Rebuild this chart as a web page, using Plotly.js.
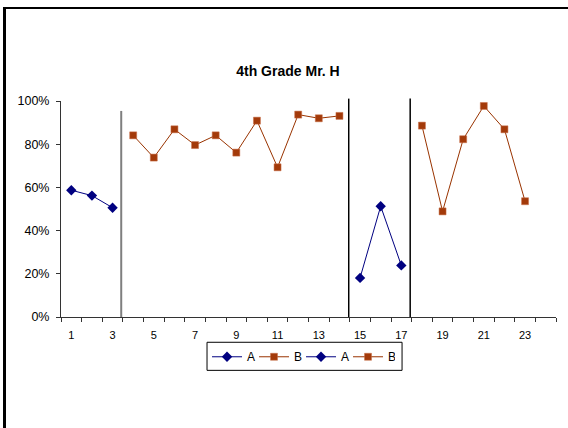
<!DOCTYPE html>
<html><head><meta charset="utf-8">
<script src="https://cdn.plot.ly/plotly-3.0.1.min.js"></script>
<style>
html,body{margin:0;padding:0;background:#fff;overflow:hidden;}
#chart{width:568px;height:428px;}
#frame{position:absolute;left:3px;top:7px;width:570px;height:430px;border-top:2.5px solid #000;border-left:3px solid #000;pointer-events:none;}
</style>
</head><body>
<div id="chart"></div><div id="frame"></div>
<script>
// Phase data (session number, proportion)
const baseline1X = [1, 2, 3];
const baseline1Y = [0.587, 0.562, 0.506];
const treat1X = [4, 5, 6, 7, 8, 9, 10, 11, 12, 13, 14];
const treat1Y = [0.841, 0.738, 0.869, 0.796, 0.841, 0.761, 0.909, 0.693, 0.937, 0.920, 0.931];
const baseline2X = [15, 16, 17];
const baseline2Y = [0.181, 0.513, 0.239];
const treat2X = [18, 19, 20, 21, 22, 23];
const treat2Y = [0.886, 0.489, 0.823, 0.977, 0.869, 0.536];

const categories = Array.from({length: 24}, (_, i) => i + 1);
const xTickVals = [1, 3, 5, 7, 9, 11, 13, 15, 17, 19, 21, 23];
const xTickText = ['1', '3', '5', '7', '9', '11', '13', '15', '17', '19', '21', '23'];
const phaseLineX = [3.42, 14.45, 17.43];
const phaseLineTop = [0.954, 1.011, 1.011];
const phaseLineColor = ['#7f7f7f', '#000000', '#000000'];

const navy = '#000080';
const rust = '#993300';
const font = 'Liberation Sans, Arial, sans-serif';

function aTrace(x, y) {
  return {x, y, name: 'A', type: 'scatter', mode: 'lines+markers',
    line: {color: navy, width: 1}, marker: {symbol: 'diamond', size: 8, color: navy}};
}
function bTrace(x, y) {
  return {x, y, name: 'B', type: 'scatter', mode: 'lines+markers',
    line: {color: rust, width: 1}, marker: {symbol: 'square', size: 7, color: '#a33a0a', line: {color: '#c8704a', width: 0.5}}};
}

const data = [aTrace(baseline1X, baseline1Y), bTrace(treat1X, treat1Y),
              aTrace(baseline2X, baseline2Y), bTrace(treat2X, treat2Y)];

const boundaries = categories.map(c => c - 0.5).concat([categories.length + 0.5]);

const shapes = phaseLineX.map((x, i) => ({
  type: 'line', xref: 'x', yref: 'paper', x0: x, x1: x, y0: 0, y1: phaseLineTop[i],
  line: {color: phaseLineColor[i], width: i === 0 ? 2 : 1.5}
}));
// legend frame
shapes.push({type: 'rect', xref: 'paper', yref: 'paper', x0: 0.295, x1: 0.689, y0: -0.117, y1: -0.247,
             line: {color: '#000', width: 1}, fillcolor: 'rgba(0,0,0,0)'});

const layout = {
  width: 568, height: 428,
  margin: {l: 61, r: 12, t: 101, b: 111},
  paper_bgcolor: '#fff', plot_bgcolor: '#fff',
  font: {family: font, color: '#000', size: 12},
  title: {text: '4th Grade Mr. H', font: {family: font, size: 14, weight: 'bold', color: '#000'},
          xref: 'container', yref: 'container', x: 0.507, y: 0.834, xanchor: 'center', yanchor: 'middle'},
  showlegend: true,
  legend: {orientation: 'h', x: 0.295, xanchor: 'left', y: -0.117, yanchor: 'top',
           bgcolor: 'rgba(0,0,0,0)', borderwidth: 0, font: {size: 12, family: font}, itemwidth: 30,
           entrywidth: 2, entrywidthmode: 'pixels',
           traceorder: 'normal', itemclick: false, itemdoubleclick: false},
  xaxis: {range: [0.5, 24.5], showgrid: false, zeroline: false, showline: true, linecolor: '#333', linewidth: 1,
          tickmode: 'array', tickvals: xTickVals, ticktext: xTickText, ticks: 'outside', ticklen: 0,
          ticklabelstandoff: 8, tickfont: {size: 11, family: font},
          minor: {tickmode: 'array', tickvals: boundaries, ticks: 'outside', ticklen: 4, tickcolor: '#333', tickwidth: 1, showgrid: false}},
  yaxis: {range: [0, 1], showgrid: false, zeroline: false, showline: true, linecolor: '#333', linewidth: 1,
          tickformat: '.0%', dtick: 0.2, tick0: 0, ticks: 'outside', ticklen: 4, tickcolor: '#333',
          ticklabelstandoff: 4, tickfont: {size: 12.5, family: font}},
  shapes: shapes
};

Plotly.newPlot('chart', data, layout, {displayModeBar: false, staticPlot: true});
</script>
</body></html>
